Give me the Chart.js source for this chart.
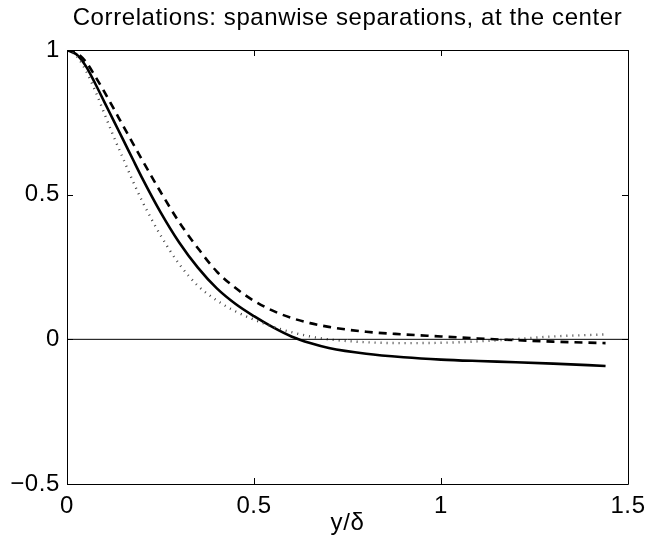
<!DOCTYPE html>
<html>
<head>
<meta charset="utf-8">
<script src="https://cdn.jsdelivr.net/npm/chart.js@4.4.1/dist/chart.umd.min.js"></script>
<style>
  html, body { margin: 0; padding: 0; background: #fff; }
  #wrap { width: 665px; height: 543px; }
</style>
</head>
<body>
<div id="wrap"><canvas id="c" width="665" height="543"></canvas></div>
<script>
// ---- data ----
const xValues = [0, 0.025, 0.05, 0.075, 0.1, 0.125, 0.15, 0.175, 0.2, 0.25, 0.3, 0.35, 0.4, 0.45, 0.5, 0.55, 0.6, 0.65, 0.7, 0.8, 0.9, 1.0, 1.1, 1.2, 1.3, 1.44];
const solidValues = [1, 0.985, 0.945, 0.885, 0.82, 0.755, 0.69, 0.625, 0.56, 0.44, 0.335, 0.248, 0.177, 0.123, 0.08, 0.042, 0.01, -0.013, -0.03, -0.05, -0.062, -0.07, -0.075, -0.079, -0.084, -0.092];
const dashedValues = [1, 0.99, 0.96, 0.91, 0.855, 0.797, 0.738, 0.68, 0.622, 0.51, 0.405, 0.315, 0.235, 0.178, 0.133, 0.099, 0.074, 0.056, 0.043, 0.026, 0.017, 0.010, 0.003, -0.003, -0.008, -0.013];
const dottedValues = [1, 0.98, 0.93, 0.86, 0.78, 0.70, 0.625, 0.55, 0.48, 0.36, 0.26, 0.185, 0.135, 0.097, 0.068, 0.044, 0.025, 0.01, 0.0, -0.01, -0.013, -0.012, -0.007, 0.001, 0.01, 0.017];
const zeroLineX = [0, 1.5];
const zeroLineY = [0, 0];
const xTicks = [0, 0.5, 1, 1.5];
const yTicks = [-0.5, 0, 0.5, 1];
const titleText = 'Correlations: spanwise separations, at the center';
const xLabel = 'y/\u03B4';

const pts = (xs, ys) => xs.map((x, i) => ({ x: x, y: ys[i] }));
const FONT = "'Liberation Sans', Arial, Helvetica, sans-serif";

const spacing = {
  id: 'spacing',
  beforeInit(chart) { try { chart.ctx.letterSpacing = '0.6px'; } catch (e) {} },
  beforeDraw(chart) { try { chart.ctx.letterSpacing = '0.6px'; } catch (e) {} }
};

const boxTicks = {
  id: 'boxTicks',
  afterDatasetsDraw(chart) {
    const { ctx, chartArea: a, scales } = chart;
    const xs = scales.x, ys = scales.y;
    const L = 6;
    ctx.save();
    ctx.strokeStyle = '#000';
    ctx.lineWidth = 1;
    ctx.beginPath();
    ctx.rect(Math.round(a.left) + 0.5, Math.round(a.top) + 0.5, Math.round(a.right - a.left), Math.round(a.bottom - a.top));
    xTicks.forEach(v => {
      const px = Math.round(xs.getPixelForValue(v)) + 0.5;
      ctx.moveTo(px, a.bottom); ctx.lineTo(px, a.bottom - L);
      ctx.moveTo(px, a.top); ctx.lineTo(px, a.top + L);
    });
    yTicks.forEach(v => {
      const py = Math.round(ys.getPixelForValue(v)) + 0.5;
      ctx.moveTo(a.left, py); ctx.lineTo(a.left + L, py);
      ctx.moveTo(a.right, py); ctx.lineTo(a.right - L, py);
    });
    ctx.stroke();
    ctx.restore();
  }
};

new Chart(document.getElementById('c'), {
  type: 'line',
  data: {
    datasets: [
      { data: pts(zeroLineX, zeroLineY), borderColor: '#000', borderWidth: 1, pointRadius: 0, tension: 0 },
      { data: pts(xValues, dottedValues), borderColor: '#444', borderWidth: 2.4, borderDash: [1, 5], pointRadius: 0, cubicInterpolationMode: 'monotone' },
      { data: pts(xValues, dashedValues), borderColor: '#000', borderWidth: 2.6, borderDash: [8, 6], pointRadius: 0, cubicInterpolationMode: 'monotone' },
      { data: pts(xValues, solidValues), borderColor: '#000', borderWidth: 2.6, pointRadius: 0, cubicInterpolationMode: 'monotone' }
    ]
  },
  options: {
    responsive: false,
    animation: false,
    devicePixelRatio: 1,
    layout: { padding: { left: 0, right: 37, top: 0, bottom: 0 } },
    plugins: {
      legend: { display: false },
      tooltip: { enabled: false },
      title: {
        display: true,
        text: titleText,
        fullSize: false,
        color: '#000',
        font: { family: FONT, size: 24, weight: 'normal' },
        padding: { top: 4, bottom: 17.2 }
      }
    },
    scales: {
      x: {
        type: 'linear', min: 0, max: 1.5,
        afterBuildTicks: s => { s.ticks = xTicks.map(v => ({ value: v })); },
        afterFit: s => { s.height = 59; },
        grid: { display: false, drawTicks: false },
        border: { display: false },
        ticks: {
          color: '#000', padding: 8, maxRotation: 0,
          font: { family: FONT, size: 24 },
          callback: v => String(v)
        },
        title: {
          display: true, text: xLabel, color: '#000',
          font: { family: FONT, size: 24 },
          padding: { top: 0, bottom: 5 }
        }
      },
      y: {
        type: 'linear', min: -0.5, max: 1,
        afterBuildTicks: s => { s.ticks = yTicks.map(v => ({ value: v })); },
        afterFit: s => { s.width = 67; },
        grid: { display: false, drawTicks: false },
        border: { display: false },
        ticks: {
          color: '#000', padding: 7,
          font: { family: FONT, size: 24 },
          callback: v => (v < 0 ? '\u2212' + String(-v) : String(v))
        }
      }
    }
  },
  plugins: [spacing, boxTicks]
});
</script>
</body>
</html>
